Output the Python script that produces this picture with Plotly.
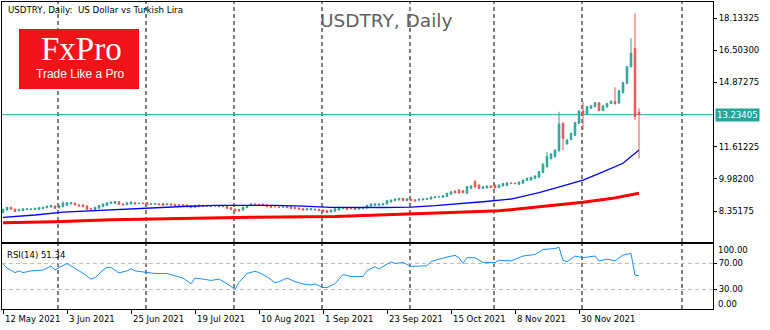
import plotly.graph_objects as go

# ---------------- data ----------------
opens = [8.27, 8.40, 8.54, 8.45, 8.36, 8.37, 8.43, 8.42, 8.43, 8.44,
         8.47, 8.52, 8.55, 8.61, 8.51, 8.57, 8.64, 8.71, 8.74, 8.66,
         8.66, 8.61, 8.46, 8.40, 8.49, 8.57, 8.64, 8.74, 8.74, 8.82,
         8.71, 8.67, 8.71, 8.77, 8.73, 8.75, 8.77, 8.70, 8.70, 8.72,
         8.72, 8.67, 8.71, 8.69, 8.67, 8.67, 8.66, 8.52, 8.54, 8.66,
         8.64, 8.63, 8.59, 8.63, 8.64, 8.57, 8.60, 8.52, 8.45, 8.43,
         8.40, 8.52, 8.62, 8.71, 8.69, 8.70, 8.66, 8.60, 8.58, 8.55,
         8.55, 8.59, 8.57, 8.54, 8.50, 8.47, 8.40, 8.41, 8.40, 8.44,
         8.40, 8.37, 8.30, 8.34, 8.40, 8.47, 8.50, 8.52, 8.50, 8.45,
         8.47, 8.50, 8.60, 8.64, 8.64, 8.66, 8.71, 8.81, 8.88, 8.91,
         8.99, 8.88, 8.96, 8.92, 8.90, 8.92, 8.93, 8.96, 9.03, 9.06,
         9.05, 9.09, 9.20, 9.36, 9.42, 9.38, 9.25, 9.50, 9.84, 9.67,
         9.50, 9.52, 9.62, 9.67, 9.54, 9.62, 9.65, 9.77, 9.76, 9.70,
         9.76, 9.90, 9.92, 10.00, 10.06, 10.30, 10.60, 11.00, 11.10, 11.40,
         12.79, 11.75, 11.98, 12.18, 12.79, 13.42, 13.25, 13.56, 13.64, 13.84,
         13.44, 13.62, 13.80, 13.90, 13.82, 14.35, 14.82, 15.67, 16.60, 13.36]
highs = [8.46, 8.56, 8.57, 8.47, 8.44, 8.49, 8.48, 8.47, 8.51, 8.54,
         8.56, 8.62, 8.66, 8.63, 8.64, 8.83, 8.79, 8.79, 8.78, 8.68,
         8.68, 8.63, 8.52, 8.56, 8.66, 8.73, 8.79, 8.83, 8.86, 8.85,
         8.73, 8.79, 8.83, 8.80, 8.77, 8.77, 8.79, 8.73, 8.74, 8.74,
         8.74, 8.73, 8.73, 8.71, 8.69, 8.69, 8.68, 8.64, 8.66, 8.68,
         8.66, 8.65, 8.64, 8.65, 8.66, 8.62, 8.62, 8.54, 8.47, 8.45,
         8.56, 8.64, 8.73, 8.73, 8.71, 8.72, 8.68, 8.62, 8.60, 8.57,
         8.58, 8.61, 8.59, 8.56, 8.52, 8.49, 8.49, 8.49, 8.46, 8.46,
         8.42, 8.39, 8.42, 8.49, 8.56, 8.56, 8.52, 8.54, 8.52, 8.54,
         8.56, 8.66, 8.73, 8.73, 8.73, 8.75, 8.90, 8.93, 8.98, 9.01,
         9.02, 8.99, 8.98, 8.94, 8.97, 8.98, 9.01, 9.08, 9.10, 9.11,
         9.15, 9.27, 9.35, 9.40, 9.45, 9.40, 9.60, 9.64, 9.92, 9.69,
         9.61, 9.64, 9.64, 9.69, 9.69, 9.77, 9.80, 9.80, 9.79, 9.84,
         9.94, 10.03, 10.08, 10.15, 10.37, 10.76, 11.35, 11.27, 11.47, 13.38,
         12.85, 11.98, 12.32, 12.86, 13.45, 13.89, 13.67, 13.71, 13.87, 13.87,
         13.71, 13.83, 13.95, 14.62, 14.48, 14.89, 15.70, 17.10, 18.37, 13.56]
lows = [8.25, 8.38, 8.42, 8.31, 8.34, 8.35, 8.41, 8.40, 8.41, 8.42,
        8.45, 8.50, 8.53, 8.47, 8.49, 8.54, 8.62, 8.69, 8.64, 8.59,
        8.55, 8.42, 8.35, 8.38, 8.47, 8.55, 8.62, 8.72, 8.72, 8.67,
        8.64, 8.65, 8.69, 8.69, 8.71, 8.71, 8.65, 8.68, 8.68, 8.65,
        8.62, 8.65, 8.64, 8.60, 8.59, 8.59, 8.55, 8.50, 8.52, 8.55,
        8.57, 8.58, 8.57, 8.59, 8.55, 8.55, 8.47, 8.42, 8.33, 8.30,
        8.38, 8.50, 8.60, 8.64, 8.64, 8.64, 8.55, 8.52, 8.54, 8.51,
        8.53, 8.50, 8.47, 8.45, 8.42, 8.38, 8.38, 8.39, 8.38, 8.35,
        8.30, 8.26, 8.28, 8.32, 8.38, 8.45, 8.42, 8.45, 8.42, 8.43,
        8.45, 8.48, 8.58, 8.62, 8.62, 8.64, 8.69, 8.79, 8.86, 8.89,
        8.86, 8.86, 8.86, 8.84, 8.88, 8.90, 8.91, 8.94, 9.01, 9.04,
        9.03, 9.07, 9.18, 9.25, 9.24, 9.26, 9.23, 9.48, 9.50, 9.48,
        9.48, 9.50, 9.52, 9.50, 9.52, 9.60, 9.63, 9.72, 9.71, 9.68,
        9.74, 9.88, 9.90, 9.98, 10.04, 10.28, 10.55, 10.97, 11.07, 11.36,
        11.44, 11.72, 11.95, 12.15, 12.76, 12.46, 13.22, 13.53, 13.61, 13.41,
        13.41, 13.59, 13.77, 13.75, 13.79, 14.32, 14.79, 15.62, 12.96, 11.02]
closes = [8.44, 8.54, 8.44, 8.33, 8.42, 8.47, 8.46, 8.45, 8.49, 8.52,
          8.54, 8.60, 8.64, 8.49, 8.62, 8.77, 8.77, 8.77, 8.66, 8.61,
          8.57, 8.44, 8.45, 8.54, 8.64, 8.71, 8.77, 8.81, 8.83, 8.69,
          8.66, 8.77, 8.81, 8.71, 8.74, 8.74, 8.67, 8.71, 8.72, 8.67,
          8.64, 8.71, 8.66, 8.62, 8.61, 8.61, 8.57, 8.62, 8.64, 8.57,
          8.59, 8.60, 8.62, 8.61, 8.57, 8.60, 8.49, 8.44, 8.35, 8.37,
          8.54, 8.62, 8.71, 8.66, 8.66, 8.66, 8.57, 8.54, 8.57, 8.54,
          8.56, 8.52, 8.49, 8.47, 8.44, 8.40, 8.47, 8.47, 8.44, 8.37,
          8.32, 8.28, 8.40, 8.47, 8.54, 8.54, 8.44, 8.47, 8.44, 8.52,
          8.54, 8.64, 8.71, 8.71, 8.71, 8.73, 8.88, 8.91, 8.96, 8.99,
          8.88, 8.97, 8.88, 8.86, 8.95, 8.96, 8.99, 9.06, 9.08, 9.09,
          9.13, 9.25, 9.33, 9.27, 9.26, 9.28, 9.585, 9.62, 9.585, 9.50,
          9.585, 9.62, 9.54, 9.52, 9.67, 9.75, 9.78, 9.75, 9.74, 9.82,
          9.92, 10.01, 10.06, 10.13, 10.345, 10.73, 11.11, 11.24, 11.44, 12.76,
          12.04, 11.95, 12.29, 12.83, 13.42, 13.22, 13.64, 13.68, 13.84, 13.44,
          13.68, 13.80, 13.92, 13.78, 14.45, 14.86, 15.67, 16.34, 13.13, 13.23405]
bars = list(range(len(closes)))

# moving averages (sampled readings at bar indices)
ma_fast_idx = [0, 8, 15, 25, 36, 45, 53, 60, 68, 75, 82, 95, 102, 108, 113, 120, 127, 134, 140, 145, 150, 155, 159]
ma_fast_val = [8.03, 8.15, 8.30, 8.40, 8.49, 8.58, 8.64, 8.65, 8.64, 8.60, 8.54, 8.53, 8.55, 8.62, 8.69, 8.82, 8.96, 9.28, 9.62, 9.92, 10.34, 10.77, 11.44]
ma_slow_idx = [0, 13, 27, 44, 62, 83, 98, 102, 112, 124, 135, 145, 152, 159]
ma_slow_val = [7.76, 7.81, 7.91, 7.98, 8.03, 8.07, 8.16, 8.18, 8.27, 8.36, 8.58, 8.79, 8.98, 9.25]

# RSI(14) readings
rsi_idx = [0, 1, 3, 4, 5, 7, 10, 12, 13, 14, 16, 18, 20, 22, 23, 25, 26, 27, 29, 31, 32, 33, 36, 38, 41, 43,
           45, 47, 48, 50, 52, 54, 56, 58, 59, 61, 63, 64, 66, 68, 69, 71, 73, 75, 77, 78, 80, 81, 83, 84,
           85, 87, 90, 91, 93, 94, 95, 97, 98, 100, 102, 106, 107, 109, 111, 113, 114, 115, 116, 118, 120,
           123, 124, 127, 130, 133, 135, 138, 139, 140, 141, 143, 145, 148, 149, 151, 153, 155, 157, 158, 159]
rsi_val = [69, 63, 56, 58.6, 56, 58.6, 60, 66, 59.7, 64, 69.9, 62.6, 55, 46, 48, 59.7, 64, 64, 55.6, 58.6, 62,
           58.6, 55.6, 54.7, 54.7, 51, 47.6, 39, 47.6, 46, 44, 46, 39, 30, 41, 54.7, 58, 56, 49.6, 40.5, 42,
           47.6, 42, 38.5, 37, 38.5, 33, 33, 39, 46, 53, 50, 50, 59, 65, 61.6, 65, 72.6, 70, 71.6, 65.5,
           66.5, 73, 76.6, 80, 82.5, 79, 70, 79, 79, 71.6, 71.6, 75, 74, 81.5, 84, 91.6, 93, 95, 75, 72.6,
           81.5, 79, 81.5, 74, 76.6, 74, 83, 85.6, 52, 51.34]

date_idx = [0, 16, 32, 48, 64, 80, 96, 112, 128, 144]
date_labels = ["12 May 2021", "3 Jun 2021", "25 Jun 2021", "19 Jul 2021", "10 Aug 2021",
               "1 Sep 2021", "23 Sep 2021", "15 Oct 2021", "8 Nov 2021", "30 Nov 2021"]
month_grid_idx = [14, 36, 58, 80, 102, 123, 145, 170]

price_ticks = [8.35175, 9.98200, 11.61225, 14.87275, 16.50300, 18.13325]
last_price = 13.23405
rsi_levels = [70, 30]

# ---------------- styling ----------------
TEAL = "#26A69A"
RED = "#EF5350"
FONT = "DejaVu Sans"

fig = go.Figure()

fig.add_trace(go.Candlestick(
    x=bars, open=opens, high=highs, low=lows, close=closes,
    increasing=dict(line=dict(color=TEAL, width=1), fillcolor=TEAL),
    decreasing=dict(line=dict(color=RED, width=1), fillcolor=RED),
    whiskerwidth=0, xaxis="x", yaxis="y", showlegend=False, hoverinfo="skip"))

fig.add_trace(go.Scatter(x=ma_fast_idx, y=ma_fast_val, mode="lines",
                         line=dict(color="#0000FF", width=1.3), xaxis="x", yaxis="y",
                         showlegend=False, hoverinfo="skip"))
fig.add_trace(go.Scatter(x=ma_slow_idx, y=ma_slow_val, mode="lines",
                         line=dict(color="#FF0000", width=3), xaxis="x", yaxis="y",
                         showlegend=False, hoverinfo="skip"))

fig.add_trace(go.Scatter(x=rsi_idx, y=rsi_val, mode="lines",
                         line=dict(color="#1E90FF", width=1), xaxis="x2", yaxis="y2",
                         showlegend=False, hoverinfo="skip"))

XR = [-0.25, 177.5]
axis_common = dict(showgrid=False, zeroline=False, showline=True, linecolor="black",
                   linewidth=1, mirror=True)

fig.update_layout(
    width=770, height=330,
    margin=dict(l=2, r=57, t=2, b=21),
    paper_bgcolor="white", plot_bgcolor="white",
    font=dict(family=FONT, size=8.5, color="black"),
    boxgap=0.45,
    xaxis=dict(domain=[0, 1], range=XR, anchor="y", showticklabels=False, ticks="",
               rangeslider=dict(visible=False), **axis_common),
    yaxis=dict(domain=[0.2182, 1], range=[6.7805, 18.944], side="right", anchor="x",
               tickvals=price_ticks, tickformat=".5f", ticks="outside", ticklen=3,
               tickcolor="black", **axis_common),
    xaxis2=dict(domain=[0, 1], range=XR, anchor="y2", matches="x", showticklabels=False,
                tickvals=date_idx, ticks="outside", ticklen=4, tickcolor="black", **axis_common),
    yaxis2=dict(domain=[0, 0.2117], range=[0, 100], side="right", anchor="x2",
                tickvals=rsi_levels, ticktext=["%.2f" % v for v in rsi_levels],
                ticks="outside", ticklen=3, tickcolor="black", **axis_common),
)

shapes = []
for g in month_grid_idx:
    for yr in ("y domain", "y2 domain"):
        shapes.append(dict(type="line", xref="x", yref=yr, x0=g - 0.25, x1=g - 0.25, y0=0, y1=1,
                           line=dict(color="black", width=1, dash="4px,3px"), layer="below"))
for lv in rsi_levels:
    shapes.append(dict(type="line", xref="x2 domain", yref="y2", x0=0, x1=1, y0=lv, y1=lv,
                       line=dict(color="#C0C0C0", width=1, dash="4px,3px"), layer="below"))
shapes.append(dict(type="line", xref="x domain", yref="y", x0=0, x1=1, y0=last_price, y1=last_price,
                   line=dict(color=TEAL, width=1), layer="below"))
# FxPro logo box
shapes.append(dict(type="rect", xref="paper", yref="paper", x0=17 / 711, x1=137 / 711,
                   y0=(309 - 89) / 307, y1=(309 - 29) / 307, fillcolor="#F01419",
                   line=dict(width=0), layer="above"))
fig.update_layout(shapes=shapes)

ann = []
ann.append(dict(text="USDTRY, Daily:  US Dollar vs Turkish Lira", xref="paper", yref="paper",
                x=0, y=1, xanchor="left", yanchor="top", xshift=4, yshift=-1, showarrow=False,
                font=dict(family=FONT, size=8.7, color="black")))
ann.append(dict(text="USDTRY, Daily", xref="paper", yref="paper", x=(386 - 2) / 711, y=(309 - 20) / 307,
                xanchor="center", yanchor="middle", showarrow=False,
                font=dict(family=FONT, size=18.5, color="#5F5F5F")))
ann.append(dict(text="FxPro", xref="paper", yref="paper", x=79 / 711, y=(309 - 49) / 307,
                xanchor="center", yanchor="middle", showarrow=False,
                font=dict(family="Liberation Serif", size=33, color="white")))
ann.append(dict(text="Trade Like a Pro", xref="paper", yref="paper", x=78 / 711, y=(309 - 74) / 307,
                xanchor="center", yanchor="middle", showarrow=False,
                font=dict(family="Liberation Sans", size=12, color="white")))
ann.append(dict(text="%.5f" % last_price, xref="paper", yref="y", x=1, y=last_price,
                xanchor="left", yanchor="middle", xshift=2, showarrow=False, bgcolor=TEAL,
                borderpad=1, font=dict(family=FONT, size=8.5, color="white")))
ann.append(dict(text="RSI(14) %.2f" % rsi_val[-1], xref="paper", yref="y2 domain", x=0, y=1,
                xanchor="left", yanchor="top", xshift=3, yshift=-4, showarrow=False,
                font=dict(family=FONT, size=8.5, color="black")))
for txt, val in (("100.00", 91), ("0.00", 7.8)):
    ann.append(dict(text=txt, xref="paper", yref="y2", x=1, y=val, xanchor="left", yanchor="middle",
                    xshift=3, showarrow=False, font=dict(family=FONT, size=8.5, color="black")))
for i, lab in zip(date_idx, date_labels):
    ann.append(dict(text=lab, xref="x2", yref="paper", x=i, y=0, xanchor="left", yanchor="top",
                    xshift=0, yshift=-3, showarrow=False, font=dict(family=FONT, size=8.5, color="black")))
fig.update_layout(annotations=ann)

fig.write_html("out.html")
